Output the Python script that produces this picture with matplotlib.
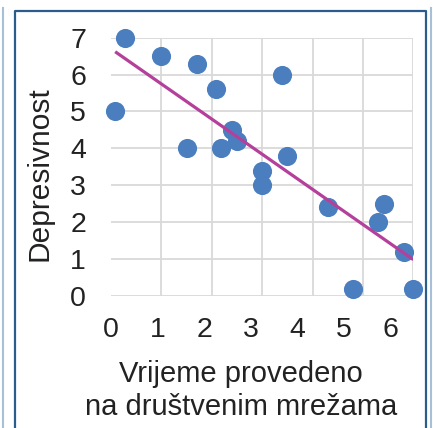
import numpy as np
import matplotlib
matplotlib.use("Agg")
import matplotlib.pyplot as plt
from matplotlib.lines import Line2D

plt.rcParams['font.family'] = ['Liberation Sans', 'DejaVu Sans']

# vrijeme na drustvenim mrezama vs depresivnost
vrijeme = [0.09, 0.31, 1.08, 1.84, 2.26, 1.63, 2.37, 2.61, 2.70, 3.68,
           3.25, 3.25, 3.79, 4.67, 5.86, 5.75, 6.29, 5.20, 6.50]
depresivnost = [5.0, 7.0, 6.5, 6.3, 5.6, 4.0, 4.0, 4.5, 4.2, 6.0,
                3.4, 3.0, 3.8, 2.4, 2.5, 2.0, 1.2, 0.2, 0.2]
x_ticks = [0, 1, 2, 3, 4, 5, 6]
y_ticks = [0, 1, 2, 3, 4, 5, 6, 7]

W, H = 433, 428
fig = plt.figure(figsize=(W / 100, H / 100), dpi=100)
ax = fig.add_axes([111 / W, 1 - 296 / H, 302.3 / W, 258.3 / H])

x = np.array(vrijeme)
y = np.array(depresivnost)
ax.scatter(x, y, s=190, color='#4a7ebf', zorder=3, clip_on=False, linewidths=0)

# linija trenda
k, n = np.polyfit(x, y, 1)
xs = np.array([x.min(), x.max()])
ax.plot(xs, k * xs + n, color='#b5409b', lw=2.3, zorder=4, solid_capstyle='butt')

ax.set_xlim(0, 6.5)
ax.set_ylim(0, 7)
ax.set_xticks(x_ticks)
ax.set_yticks(y_ticks)
ax.set_xticks(np.linspace(0, 6.5, 7), minor=True)
ax.tick_params(axis='both', which='both', length=0, labelsize=20.5, colors='#222222')
ax.tick_params(axis='x', pad=15)
ax.tick_params(axis='y', pad=18)

ax.grid(False)
ax.xaxis.grid(True, which='minor', color='#d9d9d9', lw=1.3)
ax.yaxis.grid(True, which='major', color='#d9d9d9', lw=1.3)
ax.set_axisbelow(True)
for s in ax.spines.values():
    s.set_visible(False)

ax.set_xlabel("Vrijeme provedeno\nna društvenim mrežama", fontsize=21,
              color='#222222', linespacing=1.22)
ax.xaxis.set_label_coords((241 - 111) / 302.3, -(360 - 296) / 258.3)
ax.xaxis.label.set_va('top')
ax.set_ylabel("Depresivnost", fontsize=21.5, color='#222222')
ax.yaxis.set_label_coords(-(111 - 54) / 302.3, (296 - 174) / 258.3)

# okvir
fig.add_artist(Line2D([2.5 / W, 2.5 / W], [0, 1 - 8 / H], color='#a8bfd8', lw=1.5))
fig.add_artist(Line2D([431 / W, 431 / W], [0, 1 - 8 / H], color='#a8bfd8', lw=1.5))
fig.add_artist(Line2D([15 / W, 15 / W, 426 / W, 426 / W], [0, 1 - 10.5 / H, 1 - 10.5 / H, 0],
                      color='#2b5c8c', lw=1.6))

fig.savefig("out.png", dpi=100)
